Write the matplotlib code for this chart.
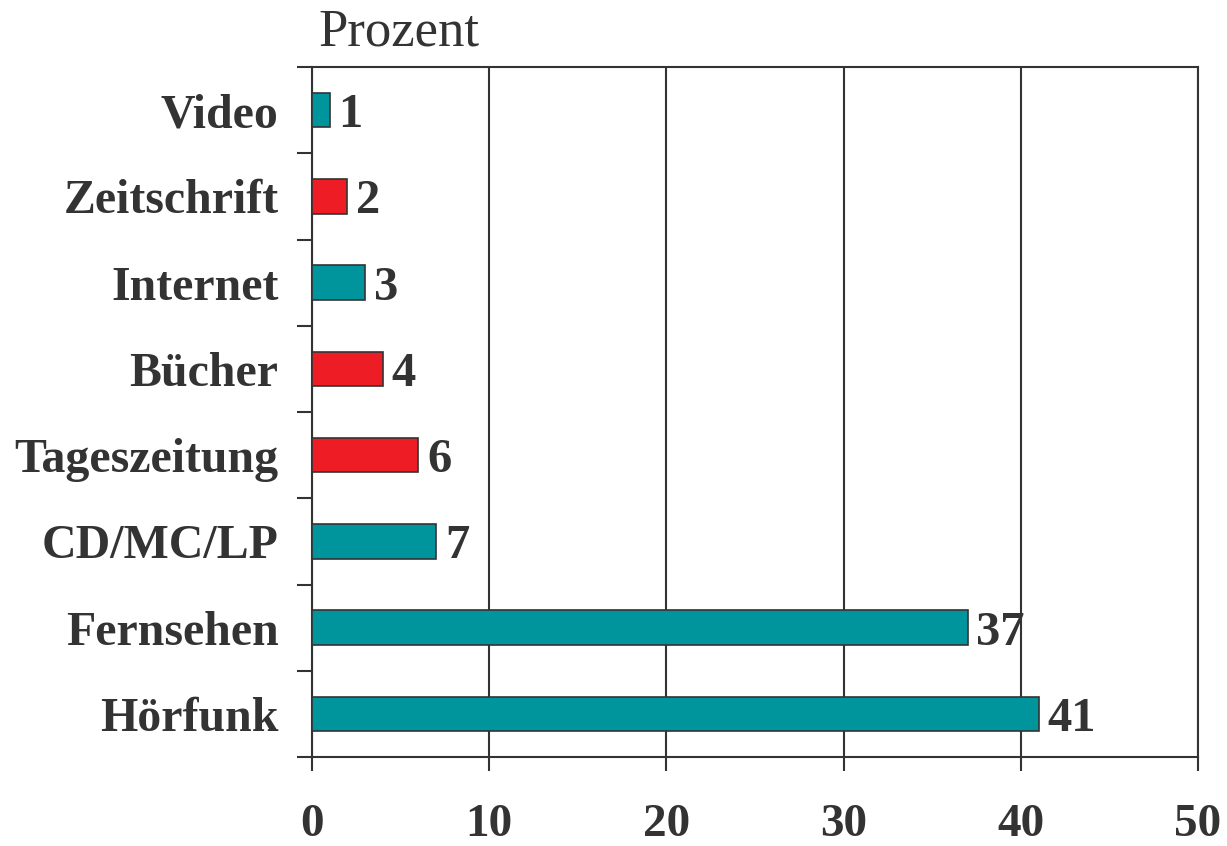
import matplotlib
matplotlib.use('Agg')
import matplotlib.pyplot as plt
import numpy as np

# data, bottom to top
categories = ['Hörfunk', 'Fernsehen', 'CD/MC/LP', 'Tageszeitung', 'Bücher', 'Internet', 'Zeitschrift', 'Video']
values = [41, 37, 7, 6, 4, 3, 2, 1]
is_print = [False, False, False, True, True, False, True, False]

teal = '#00949C'
red = '#EE1C25'
ink = '#333333'

plt.rcParams.update({'font.family': 'Liberation Serif', 'text.color': ink,
                     'axes.edgecolor': ink, 'xtick.color': ink, 'ytick.color': ink})

fig = plt.figure(figsize=(12.27, 8.46), dpi=100)
ax = fig.add_axes([312 / 1227, 1 - 757 / 846, (1198 - 312) / 1227, (757 - 67) / 846])

y = np.arange(len(categories))
colors = [red if p else teal for p in is_print]
ax.barh(y, values, height=0.4, color=colors, edgecolor=ink, linewidth=1.2, zorder=3)

for yi, v in zip(y, values):
    ax.text(v + 0.5, yi, str(v), va='center_baseline', ha='left', fontsize=35,
            fontweight='bold', zorder=4)

ax.set_xlim(0, 50)
ax.set_ylim(-0.5, len(categories) - 0.5)
ax.set_xticks(range(0, 51, 10))
ax.tick_params(axis='x', direction='out', length=10, width=1.5, pad=24, labelsize=34)
for lab in ax.get_xticklabels():
    lab.set_fontweight('bold')

ax.set_yticks(y)
ax.set_yticklabels(categories, fontsize=34.5, fontweight='bold', va='center_baseline')
ax.tick_params(axis='y', which='major', length=0, pad=24)
ax.set_yticks(np.arange(-0.5, len(categories)), minor=True)
ax.tick_params(axis='y', which='minor', direction='out', length=11, width=1.5)

ax.grid(axis='x', color=ink, linewidth=1.5, zorder=1)
for s in ax.spines.values():
    s.set_linewidth(1.5)
    s.set_zorder(2)

fig.text(318 / 1227, 1 - 46 / 846, 'Prozent', fontsize=38, ha='left', va='baseline')

fig.savefig('out.png', dpi=100)
